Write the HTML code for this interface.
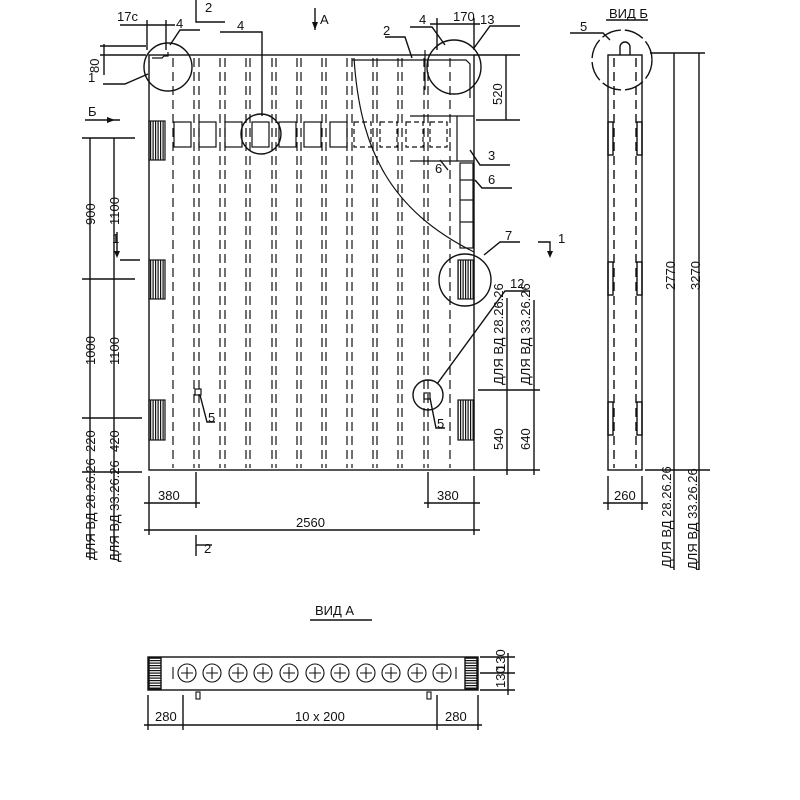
<!DOCTYPE html>
<html><head><meta charset="utf-8"><style>
html,body{margin:0;padding:0;background:#fff}
svg{display:block}
text{font-family:"Liberation Sans",sans-serif;fill:#111;font-size:13px}
</style></head><body>
<svg width="800" height="800" viewBox="0 0 800 800" xmlns="http://www.w3.org/2000/svg">
<defs>
<pattern id="h" width="2.5" height="10" patternUnits="userSpaceOnUse"><rect width="1.2" height="10" fill="#111"/></pattern>
<pattern id="hv" width="10" height="2.5" patternUnits="userSpaceOnUse"><rect width="10" height="1.2" fill="#111"/></pattern>
</defs>
<g stroke="#111" fill="none" stroke-width="1.4">
<rect x="149" y="55" width="325" height="415"/>
<g stroke-dasharray="9,5" stroke-width="1.2">
<line x1="173" y1="58" x2="173" y2="468"/><line x1="194" y1="58" x2="194" y2="468"/><line x1="199" y1="58" x2="199" y2="468"/>
<line x1="220" y1="58" x2="220" y2="468"/><line x1="225" y1="58" x2="225" y2="468"/>
<line x1="246" y1="58" x2="246" y2="468"/><line x1="250" y1="58" x2="250" y2="468"/>
<line x1="272" y1="58" x2="272" y2="468"/><line x1="276" y1="58" x2="276" y2="468"/>
<line x1="297" y1="58" x2="297" y2="468"/><line x1="301" y1="58" x2="301" y2="468"/>
<line x1="322" y1="58" x2="322" y2="468"/><line x1="326" y1="58" x2="326" y2="468"/>
<line x1="347" y1="58" x2="347" y2="468"/><line x1="352" y1="58" x2="352" y2="468"/>
<line x1="373" y1="58" x2="373" y2="468"/><line x1="377" y1="58" x2="377" y2="468"/>
<line x1="398" y1="58" x2="398" y2="468"/><line x1="402" y1="58" x2="402" y2="468"/>
<line x1="424" y1="58" x2="424" y2="468"/><line x1="428" y1="58" x2="428" y2="468"/>
<line x1="450" y1="58" x2="450" y2="468"/>
</g>
<g stroke-width="1.2">
<rect x="174" y="122" width="17" height="25"/><rect x="199" y="122" width="17" height="25"/><rect x="225" y="122" width="17" height="25"/>
<rect x="252" y="122" width="17" height="25"/><rect x="279" y="122" width="17" height="25"/><rect x="304" y="122" width="17" height="25"/>
<rect x="330" y="122" width="17" height="25"/>
<rect x="354" y="122" width="17" height="25" stroke-dasharray="5,3"/><rect x="380" y="122" width="17" height="25" stroke-dasharray="5,3"/><rect x="406" y="122" width="17" height="25" stroke-dasharray="5,3"/><rect x="430" y="122" width="17" height="25" stroke-dasharray="5,3"/>
<polyline points="410,116 474,116"/><line x1="457" y1="116" x2="457" y2="161"/><polyline points="410,161 474,161"/>
<rect x="460" y="163" width="13" height="85"/>
<line x1="460" y1="180" x2="473" y2="180"/><line x1="460" y1="200" x2="473" y2="200"/><line x1="460" y1="222" x2="473" y2="222"/>
<path d="M354 58 C360 150,390 210,474 252"/>
<polyline points="352,60 466,60 470,64 470,98"/>
<line x1="425" y1="50" x2="425" y2="90"/>
<polyline points="152,58 162,58 164,56 168,56 168,52"/>
</g>
<g stroke-width="1.2">
<rect x="149" y="121" width="16" height="39" fill="url(#h)"/><rect x="149" y="260" width="16" height="39" fill="url(#h)"/><rect x="149" y="400" width="16" height="40" fill="url(#h)"/>
<rect x="458" y="260" width="16" height="39" fill="url(#h)"/><rect x="458" y="400" width="16" height="40" fill="url(#h)"/>
<rect x="195" y="389" width="6" height="6"/><rect x="424" y="393" width="6" height="6"/>
</g>
<circle cx="168" cy="67" r="24"/><circle cx="454" cy="67" r="27"/><circle cx="261" cy="134" r="20"/>
<circle cx="465" cy="280" r="26"/><circle cx="428" cy="395" r="15"/>
<polyline points="103,84 125,84 148,74"/><polyline points="170,45 180,30 200,30"/><polyline points="220,32 262,32 262,116"/>
<polyline points="385,37 405,37 412,58"/><polyline points="410,27 432,27 445,45"/><polyline points="474,48 490,26 520,26"/>
<polyline points="470,150 480,165 510,165"/><polyline points="475,180 482,188 512,188"/><polyline points="440,160 448,170"/>
<polyline points="484,255 500,242 520,242"/><polyline points="437,384 505,291 530,291"/>
<polyline points="200,395 207,422 215,422"/><polyline points="430,398 436,428 445,428"/>
<polyline points="196,0 196,22 225,22"/><polyline points="120,260 140,260"/><line x1="117" y1="232" x2="117" y2="255"/>
<polyline points="538,242 550,242 550,255"/><line x1="315" y1="8" x2="315" y2="30"/>
<line x1="85" y1="120" x2="120" y2="120"/><polyline points="196,535 196,556"/><line x1="196" y1="545" x2="212" y2="545"/>
<line x1="90" y1="138" x2="90" y2="472"/><line x1="114" y1="138" x2="114" y2="472"/>
<line x1="82" y1="138" x2="135" y2="138"/><line x1="82" y1="279" x2="135" y2="279"/><line x1="82" y1="418" x2="142" y2="418"/><line x1="82" y1="472" x2="142" y2="472"/>
<line x1="90" y1="472" x2="90" y2="560"/><line x1="114" y1="472" x2="114" y2="560"/>
<line x1="100" y1="46" x2="146" y2="46"/><line x1="100" y1="55" x2="146" y2="55"/><line x1="104" y1="44" x2="104" y2="75"/>
<line x1="120" y1="25" x2="175" y2="25"/><line x1="147" y1="20" x2="147" y2="50"/><line x1="166" y1="20" x2="166" y2="50"/>
<line x1="430" y1="24" x2="480" y2="24"/><line x1="437" y1="18" x2="437" y2="50"/><line x1="474" y1="18" x2="474" y2="50"/>
<line x1="474" y1="55" x2="520" y2="55"/><line x1="476" y1="120" x2="520" y2="120"/><line x1="506" y1="55" x2="506" y2="120"/>
<line x1="478" y1="390" x2="540" y2="390"/><line x1="474" y1="470" x2="540" y2="470"/>
<line x1="507" y1="390" x2="507" y2="475"/><line x1="534" y1="300" x2="534" y2="475"/><line x1="507" y1="298" x2="507" y2="390"/>
<line x1="149" y1="476" x2="149" y2="535"/><line x1="196" y1="472" x2="196" y2="508"/><line x1="428" y1="472" x2="428" y2="508"/><line x1="474" y1="476" x2="474" y2="535"/>
<line x1="144" y1="503" x2="200" y2="503"/><line x1="424" y1="503" x2="480" y2="503"/><line x1="144" y1="530" x2="480" y2="530"/>
<rect x="608" y="55" width="34" height="415"/>
<line x1="614" y1="58" x2="614" y2="468" stroke-dasharray="9,5"/><line x1="636" y1="58" x2="636" y2="468" stroke-dasharray="9,5"/>
<path d="M620 55 v-8 a5 5 0 0 1 10 0 v8"/>
<circle cx="622" cy="60" r="30" stroke-dasharray="20,4"/>
<polyline points="570,33 603,33 610,40"/>
<rect x="608" y="122" width="5" height="33"/><rect x="637" y="122" width="5" height="33"/>
<rect x="608" y="262" width="5" height="33"/><rect x="637" y="262" width="5" height="33"/>
<rect x="608" y="402" width="5" height="33"/><rect x="637" y="402" width="5" height="33"/>
<line x1="650" y1="53" x2="705" y2="53"/><line x1="674" y1="53" x2="674" y2="570"/><line x1="699" y1="53" x2="699" y2="570"/>
<line x1="645" y1="470" x2="710" y2="470"/>
<line x1="608" y1="476" x2="608" y2="510"/><line x1="642" y1="476" x2="642" y2="510"/><line x1="603" y1="503" x2="648" y2="503"/>
<line x1="606" y1="20" x2="648" y2="20"/>
<line x1="310" y1="620" x2="372" y2="620"/>
<rect x="148" y="657" width="330" height="33"/>
<rect x="149" y="658" width="12" height="31" fill="url(#hv)"/><rect x="465" y="658" width="12" height="31" fill="url(#hv)"/>
<g stroke-width="1.1">
<circle cx="187" cy="673" r="9"/><circle cx="212" cy="673" r="9"/><circle cx="238" cy="673" r="9"/><circle cx="263" cy="673" r="9"/><circle cx="289" cy="673" r="9"/><circle cx="315" cy="673" r="9"/><circle cx="340" cy="673" r="9"/><circle cx="366" cy="673" r="9"/><circle cx="391" cy="673" r="9"/><circle cx="417" cy="673" r="9"/><circle cx="442" cy="673" r="9"/>
<path d="M181 673h12M187 667v12M206 673h12M212 667v12M232 673h12M238 667v12M257 673h12M263 667v12M283 673h12M289 667v12M309 673h12M315 667v12M334 673h12M340 667v12M360 673h12M366 667v12M385 673h12M391 667v12M411 673h12M417 667v12M436 673h12M442 667v12"/>
<line x1="173" y1="667" x2="173" y2="679"/><line x1="456" y1="667" x2="456" y2="679"/>
<rect x="196" y="692" width="4" height="7"/><rect x="427" y="692" width="4" height="7"/>
</g>
<line x1="148" y1="695" x2="148" y2="730"/><line x1="183" y1="695" x2="183" y2="730"/><line x1="437" y1="695" x2="437" y2="730"/><line x1="478" y1="695" x2="478" y2="730"/>
<line x1="144" y1="725" x2="482" y2="725"/>
<line x1="480" y1="657" x2="515" y2="657"/><line x1="480" y1="673" x2="515" y2="673"/><line x1="480" y1="690" x2="515" y2="690"/><line x1="508" y1="653" x2="508" y2="695"/>
</g>
<g fill="#111">
<path d="M115 120 l-8 -3 v6z"/><path d="M315 30 l-3 -8 h6z"/><path d="M117 258 l-3 -7 h6z"/><path d="M550 258 l-3 -7 h6z"/>
</g>
<text x="117" y="21" font-size="9">17c</text><text x="176" y="28" font-size="10">4</text>
<text x="205" y="12" font-size="12">2</text><text x="237" y="30">4</text><text x="320" y="24" font-size="11">А</text>
<text x="383" y="35">2</text><text x="419" y="24">4</text><text x="453" y="21" font-size="9">170</text><text x="480" y="24">13</text>
<text x="88" y="82" font-size="12">1</text><text transform="translate(99,73) rotate(-90)" font-size="11">80</text>
<text x="88" y="116" font-size="12">Б</text><text x="580" y="31">5</text><text x="609" y="18" font-size="12">ВИД Б</text>
<text transform="translate(502,105) rotate(-90)">520</text>
<text x="488" y="160">3</text><text x="488" y="184">6</text><text x="435" y="173" font-size="12">6</text>
<text x="505" y="240">7</text><text x="510" y="288">12</text><text x="558" y="243" font-size="10">1</text><text x="112" y="243" font-size="10">1</text>
<text transform="translate(95,225) rotate(-90)">900</text><text transform="translate(119,225) rotate(-90)">1100</text>
<text transform="translate(95,365) rotate(-90)">1000</text><text transform="translate(119,365) rotate(-90)">1100</text>
<text transform="translate(95,452) rotate(-90)">220</text><text transform="translate(119,452) rotate(-90)">420</text>
<text transform="translate(95,560) rotate(-90)" font-size="9">ДЛЯ ВД 28.26.26</text><text transform="translate(119,562) rotate(-90)" font-size="9">ДЛЯ ВД 33.26.26</text>
<text transform="translate(503,385) rotate(-90)" font-size="11">ДЛЯ ВД 28.26.26</text><text transform="translate(530,385) rotate(-90)" font-size="11">ДЛЯ ВД 33.26.26</text>
<text transform="translate(503,450) rotate(-90)">540</text><text transform="translate(530,450) rotate(-90)">640</text>
<text x="208" y="422" font-size="12">5</text><text x="437" y="428" font-size="12">5</text>
<text x="158" y="500">380</text><text x="437" y="500">380</text><text x="296" y="527">2560</text><text x="204" y="553" font-size="12">2</text>
<text x="614" y="500">260</text>
<text transform="translate(675,290) rotate(-90)">2770</text><text transform="translate(700,290) rotate(-90)">3270</text>
<text transform="translate(671,568) rotate(-90)" font-size="11">ДЛЯ ВД 28.26.26</text><text transform="translate(697,570) rotate(-90)" font-size="11">ДЛЯ ВД 33.26.26</text>
<text x="315" y="615" font-size="12">ВИД А</text>
<text x="155" y="721">280</text><text x="295" y="721" font-size="10">10 x 200</text><text x="445" y="721">280</text>
<text transform="translate(505,671) rotate(-90)" font-size="9">130</text><text transform="translate(505,688) rotate(-90)" font-size="9">130</text>
</svg>
</body></html>
